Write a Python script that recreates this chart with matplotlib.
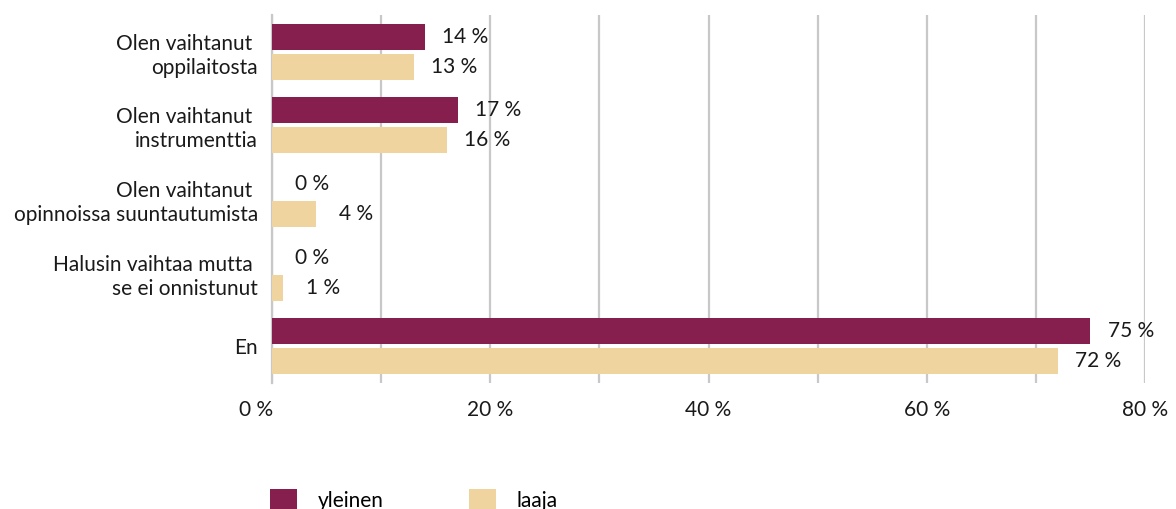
import matplotlib
matplotlib.use("Agg")
import matplotlib.pyplot as plt
from matplotlib.patches import Patch
import matplotlib.transforms as mtransforms
import numpy as np

plt.rcParams['font.family'] = ['Lato', 'DejaVu Sans']

categories = ["Olen vaihtanut \noppilaitosta",
              "Olen vaihtanut \ninstrumenttia",
              "Olen vaihtanut \nopinnoissa suuntautumista",
              "Halusin vaihtaa mutta \nse ei onnistunut",
              "En"]
yleinen = [14, 17, 0, 0, 75]
laaja = [13, 16, 4, 1, 72]
series_names = ["yleinen", "laaja"]
colors = ["#861F4E", "#EFD4A0"]
xticks = [0, 20, 40, 60, 80]

FS = 15
TXT = "#1a1a1a"
fig = plt.figure(figsize=(11.76, 5.09), dpi=100)
ax = fig.add_axes([272/1176, 1-383/509, (1145-272)/1176, (383-15)/509])

n = len(categories)
y = np.arange(n)
h = 0.354
off = 0.204
ax.barh(y - off, yleinen, height=h, color=colors[0], zorder=3)
ax.barh(y + off, laaja, height=h, color=colors[1], zorder=3)

for yi, v in zip(y, yleinen):
    ax.annotate(f"{v} %", (v, yi - off), xytext=(29, 0), textcoords="offset points",
                va="center", ha="center", fontsize=FS, color=TXT)
for yi, v in zip(y, laaja):
    ax.annotate(f"{v} %", (v, yi + off), xytext=(29, 0), textcoords="offset points",
                va="center", ha="center", fontsize=FS, color=TXT)

ax.set_ylim(n - 0.5, -0.5)
ax.set_xlim(0, 80)
ax.set_yticks(y)
ax.set_yticklabels(categories, fontsize=FS, color=TXT, linespacing=1.25)
ax.tick_params(axis='y', length=0, pad=10)
ax.set_xticks(np.arange(0, 81, 10))
ax.set_xticklabels([f"{t} %" if t in xticks else "" for t in range(0, 81, 10)], fontsize=FS, color=TXT)
ax.tick_params(axis='x', length=0, pad=12)
ax.grid(axis='x', color="#C8C8C8", linewidth=1.6, zorder=0)
for s in ["top", "right", "bottom"]:
    ax.spines[s].set_visible(False)
ax.spines["left"].set_color("#C8C8C8")
ax.spines["left"].set_linewidth(1.6)

# shift first tick label slightly left, as in the reference
lbl0 = ax.get_xticklabels()[0]
lbl0.set_transform(lbl0.get_transform() + mtransforms.ScaledTranslation(-16/100, 0, fig.dpi_scale_trans))

handles = [Patch(facecolor=c, label=l) for c, l in zip(colors, series_names)]
fig.legend(handles=handles, loc="center left", bbox_to_anchor=(262/1176, 1-500/509), ncol=2,
           frameon=False, fontsize=FS, handlelength=1.3, handleheight=1.3, columnspacing=4.06,
           handletextpad=1.0, borderaxespad=0)

fig.savefig("out.png", dpi=100)
